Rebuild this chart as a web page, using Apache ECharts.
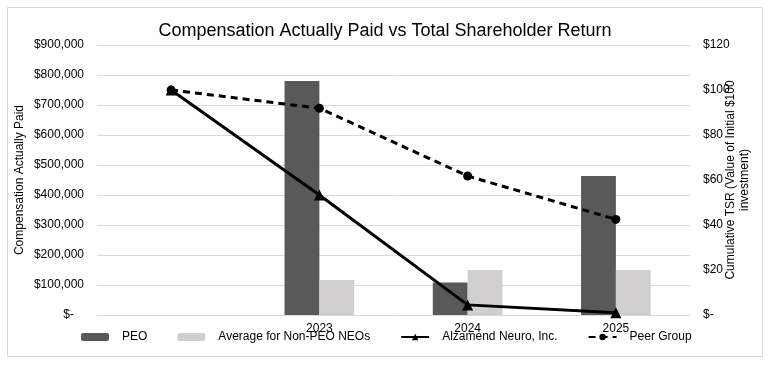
<!DOCTYPE html>
<html>
<head>
<meta charset="utf-8">
<script src="https://cdn.jsdelivr.net/npm/echarts@6/dist/echarts.min.js"></script>
<style>html,body{margin:0;padding:0;background:#fff}#c{width:770px;height:366px}</style>
</head>
<body>
<div id="c"></div>
<script>
var categories = ['', '2023', '2024', '2025'];
var peo = [null, 780000, 108000, 463000];
var neo = [null, 117000, 150000, 150000];
var alzamend = [100, 53.3, 4.5, 1];
var peer = [100, 91.9, 61.8, 42.5];
var leftTicks = { min: 0, max: 900000, interval: 100000 };
var rightTicks = { min: 0, max: 120, interval: 20 };

var FONT = '"Liberation Sans", Arial, sans-serif';
var chart = echarts.init(document.getElementById('c'));
chart.setOption({
  animation: false,
  textStyle: { fontFamily: FONT },
  graphic: [{
    type: 'rect', shape: { x: 7.5, y: 7.5, width: 755, height: 349 },
    style: { fill: 'none', stroke: '#d9d9d9', lineWidth: 1 }, silent: true, z: -1
  }],
  title: {
    text: 'Compensation Actually Paid vs Total Shareholder Return',
    left: 'center', top: 17,
    textStyle: { fontFamily: FONT, fontSize: 18, fontWeight: 'normal', color: '#000' }
  },
  grid: { left: 97, right: 80, top: 45, bottom: 51, containLabel: false, outerBoundsMode: 'none' },
  legend: {
    left: 76, top: 326,
    itemWidth: 28, itemHeight: 8, itemGap: 30,
    textStyle: { fontFamily: FONT, fontSize: 12, color: '#000', padding: [0, 0, 0, 8] },
    data: ['PEO', 'Average for Non-PEO NEOs', 'Alzamend Neuro, Inc.', 'Peer Group']
  },
  xAxis: {
    type: 'category', data: categories,
    axisLine: { lineStyle: { color: '#d9d9d9' } },
    axisTick: { show: false },
    axisLabel: { color: '#000', fontSize: 12, margin: 8, fontFamily: FONT }
  },
  yAxis: [{
    type: 'value', min: leftTicks.min, max: leftTicks.max, interval: leftTicks.interval,
    name: 'Compensation Actually Paid', nameLocation: 'middle', nameRotate: 90, nameGap: 71,
    nameMoveOverlap: false,
    nameTextStyle: { fontFamily: FONT, fontSize: 12, color: '#000' },
    axisLabel: {
      color: '#000', fontSize: 12, margin: 13, fontFamily: FONT,
      formatter: function (v) { return v === 0 ? '$-   ' : '$' + v.toLocaleString('en-US'); }
    },
    splitLine: { lineStyle: { color: '#d9d9d9' } },
    axisLine: { show: false }, axisTick: { show: false }
  }, {
    type: 'value', min: rightTicks.min, max: rightTicks.max, interval: rightTicks.interval,
    name: 'Cumulative TSR (Value of Initial $100\ninvestment)', nameLocation: 'middle', nameRotate: 90, nameGap: 34,
    nameMoveOverlap: false,
    nameTextStyle: { fontFamily: FONT, fontSize: 12, color: '#000', lineHeight: 14 },
    axisLabel: {
      color: '#000', fontSize: 12, margin: 13, fontFamily: FONT,
      formatter: function (v) { return v === 0 ? '$-' : '$' + v; }
    },
    splitLine: { show: false },
    axisLine: { show: false }, axisTick: { show: false }
  }],
  series: [{
    name: 'PEO', type: 'bar', data: peo, barGap: '0%', barCategoryGap: '53%',
    itemStyle: { color: '#595959' }
  }, {
    name: 'Average for Non-PEO NEOs', type: 'bar', data: neo,
    itemStyle: { color: '#d0cece' }
  }, {
    name: 'Alzamend Neuro, Inc.', type: 'line', yAxisIndex: 1, data: alzamend,
    symbol: 'triangle', symbolSize: 11,
    lineStyle: { color: '#000', width: 3 }, itemStyle: { color: '#000' }
  }, {
    name: 'Peer Group', type: 'line', yAxisIndex: 1, data: peer,
    symbol: 'circle', symbolSize: 9,
    lineStyle: { color: '#000', width: 3, type: [7, 5] }, itemStyle: { color: '#000' }
  }]
});
</script>
</body>
</html>
